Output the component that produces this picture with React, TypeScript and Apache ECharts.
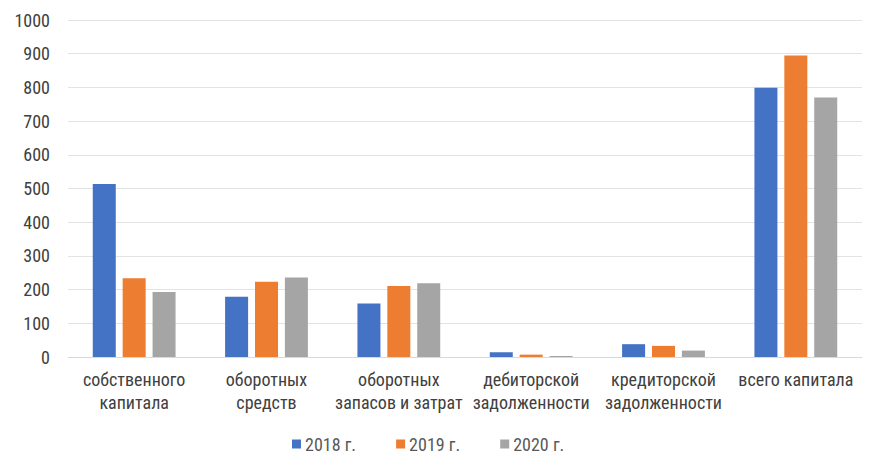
import React, { useEffect, useRef } from "react";
import * as echarts from "echarts";

const categories = [
  "собственного\nкапитала",
  "оборотных\nсредств",
  "оборотных\nзапасов и затрат",
  "дебиторской\nзадолженности",
  "кредиторской\nзадолженности",
  "всего капитала",
];
const seriesNames = ["2018 г.", "2019 г.", "2020 г."];
const values2018 = [513, 179, 159, 14, 38, 799];
const values2019 = [234, 223, 211, 7, 33, 895];
const values2020 = [193, 236, 219, 3, 19, 770];
const colors = ["#4472C4", "#ED7D31", "#A5A5A5"];

export default function App() {
  const ref = useRef<HTMLDivElement>(null);
  useEffect(() => {
    if (!ref.current) return;
    const chart = echarts.init(ref.current, undefined, { renderer: "svg" });
    const font = "'Liberation Sans Narrow', 'Roboto Condensed', 'Noto Sans', sans-serif";
    const data = [values2018, values2019, values2020];
    chart.setOption({
      animation: false,
      textStyle: { fontFamily: font },
      grid: { left: 68, right: 17, top: 20, bottom: 114, containLabel: false },
      legend: {
        top: 430,
        left: 287,
        itemWidth: 9,
        itemHeight: 9,
        itemGap: 40,
        icon: "rect",
        textStyle: { fontSize: 18, color: "#595959", fontFamily: font, padding: [0, 0, 0, -1] },
        data: seriesNames,
      },
      xAxis: {
        type: "category",
        data: categories,
        axisLine: { lineStyle: { color: "#d9d9d9" } },
        axisTick: { show: false },
        axisLabel: {
          color: "#404040",
          fontSize: 18,
          lineHeight: 23,
          margin: 11,
          interval: 0,
          fontFamily: font,
        },
      },
      yAxis: {
        type: "value",
        min: 0,
        max: 1000,
        interval: 100,
        axisLine: { show: false },
        axisTick: { show: false },
        splitLine: { lineStyle: { color: "#e3e3e3", width: 1 } },
        axisLabel: {
          color: "#404040",
          fontSize: 18,
          margin: 18,
          fontFamily: font,
          formatter: (v: number) => String(v),
        },
      },
      series: seriesNames.map((n, i) => ({
        name: n,
        type: "bar",
        data: data[i],
        barWidth: 23,
        barGap: "30%",
        itemStyle: { color: colors[i] },
      })),
    });
    return () => chart.dispose();
  }, []);
  return <div ref={ref} style={{ width: 879, height: 471, marginLeft: -8, marginTop: -8 }} />;
}
